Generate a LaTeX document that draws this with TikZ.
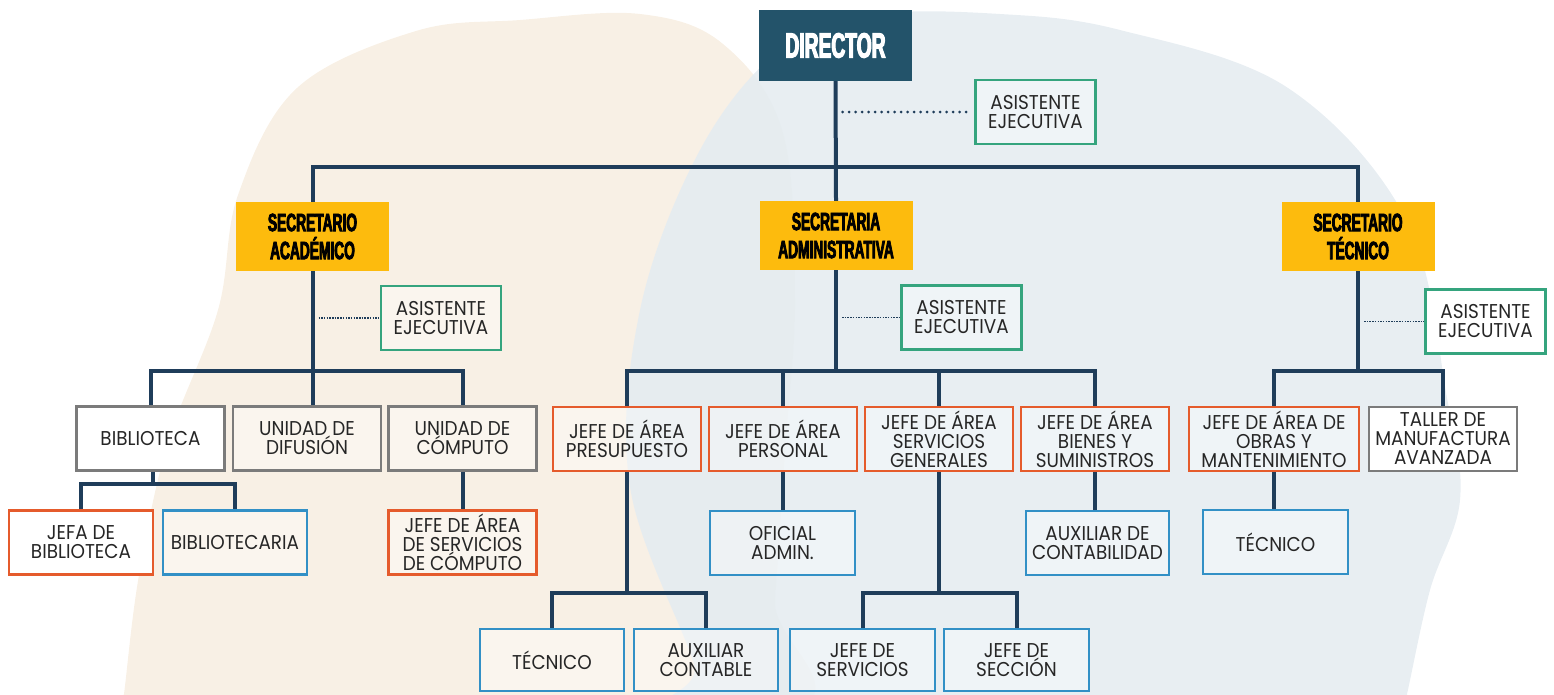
\documentclass[tikz,border=0pt]{standalone}
\usepackage{fontspec}
\setmainfont{Poppins}[FakeStretch=0.92]
\newfontfamily\headfont{Liberation Sans}[FakeStretch=0.55, FakeBold=3.2]
\definecolor{cnavy}{HTML}{1F3D5A}
\definecolor{cdir}{HTML}{23536A}
\definecolor{cyellow}{HTML}{FDBB0D}
\definecolor{cgreen}{HTML}{35A47E}
\definecolor{corange}{HTML}{E55B2C}
\definecolor{cblue}{HTML}{3290C6}
\definecolor{cgrey}{HTML}{7B7B7B}
\definecolor{ctxt}{HTML}{262626}
\definecolor{cbeige}{HTML}{F8F0E5}
\definecolor{cbluebg}{HTML}{E5ECF1}
\tikzset{
  box/.style={draw, line width=2.5pt, minimum width=148pt, minimum height=64pt,
    inner sep=0pt, align=center, text=ctxt, fill=white, fill opacity=0.35, text opacity=1,
    font=\fontsize{20}{19}\selectfont},
  greenbox/.style={box, draw=cgreen, minimum width=120pt},
  orangebox/.style={box, draw=corange},
  bluebox/.style={box, draw=cblue},
  greybox/.style={box, draw=cgrey},
  solidwhite/.style={fill opacity=1},
  headbox/.style={fill=cyellow, minimum width=153pt, minimum height=69pt, inner sep=0pt,
    align=center, text=black, font=\headfont\bfseries\fontsize{25}{28}\selectfont},
  dirbox/.style={fill=cdir, minimum width=153pt, minimum height=71pt, inner sep=0pt,
    text=white, font=\headfont\bfseries\fontsize{35}{35}\selectfont},
  conn/.style={draw=cnavy, line width=4pt, line join=miter},
  bigdots/.style={draw=cnavy, line width=3pt, line cap=round, dash pattern=on 0pt off 6.5pt, shorten <=7pt, shorten >=3pt},
  thindots/.style={draw=cnavy, line width=1.2pt, dash pattern=on 1.5pt off 1.2pt, shorten <=6pt}
}
\begin{document}
\begin{tikzpicture}[x=1pt,y=-1pt]
\useasboundingbox (0,0) rectangle (1554,694);
\begin{scope}
\clip (0,0) rectangle (1554,694);
\fill[cbeige] plot[smooth cycle, tension=0.6] coordinates {(416,31) (520,20) (640,14) (723,44) (783,133) (795,300) (785,450) (775,600) (765,720) (120,720) (124,694) (139,575) (168,442) (218,310) (238,195) (297,88)};
\fill[cbluebg, opacity=0.9] plot[smooth cycle, tension=0.6] coordinates {(872,15) (1000,14) (1120,30) (1288,88) (1407,221) (1447,398) (1460,500) (1430,590) (1407,694) (1400,720) (700,720) (694,664) (630,487) (640,310) (700,150) (780,50)};
\end{scope}

% nodes
\node[dirbox] (dir) at (835.5,45.5) {DIRECTOR};
\node[greenbox] (ae0) at (1035.5,112) {ASISTENTE\\EJECUTIVA};

\node[headbox] (sa) at (312.5,236.5) {SECRETARIO\\ACADÉMICO};
\node[headbox] (sad) at (836,235.5) {SECRETARIA\\ADMINISTRATIVA};
\node[headbox] (st) at (1358,236.5) {SECRETARIO\\TÉCNICO};

\node[greenbox] (ae1) at (441,318) {ASISTENTE\\EJECUTIVA};
\node[greenbox] (ae2) at (961.5,317.5) {ASISTENTE\\EJECUTIVA};
\node[greenbox, solidwhite] (ae3) at (1485.5,321.5) {ASISTENTE\\EJECUTIVA};

\node[greybox, solidwhite] (bib) at (150.5,438.5) {BIBLIOTECA};
\node[greybox] (dif) at (307,438.5) {UNIDAD DE\\DIFUSIÓN};
\node[greybox] (comp) at (462.5,438.5) {UNIDAD DE\\CÓMPUTO};
\node[orangebox] (pres) at (627,439) {JEFE DE ÁREA\\PRESUPUESTO};
\node[orangebox] (pers) at (783,439) {JEFE DE ÁREA\\PERSONAL};
\node[orangebox] (sg) at (939,439) {JEFE DE ÁREA\\SERVICIOS\\GENERALES};
\node[orangebox] (bs) at (1095,439) {JEFE DE ÁREA\\BIENES Y\\SUMINISTROS};
\node[orangebox, minimum width=170pt] (obras) at (1274,439) {JEFE DE ÁREA DE\\OBRAS Y\\MANTENIMIENTO};
\node[greybox, solidwhite] (taller) at (1443,439) {TALLER DE\\MANUFACTURA\\AVANZADA};

\node[orangebox, solidwhite, minimum width=144pt] (jefa) at (81,542.5) {JEFA DE\\BIBLIOTECA};
\node[bluebox, minimum width=144pt] (bibt) at (235,542.5) {BIBLIOTECARIA};
\node[orangebox] (jsc) at (462.5,542.5) {JEFE DE ÁREA\\DE SERVICIOS\\DE CÓMPUTO};
\node[bluebox, minimum width=145pt] (ofi) at (782.5,543) {OFICIAL\\ADMIN.};
\node[bluebox, minimum width=143pt] (auxcont) at (1097.5,543) {AUXILIAR DE\\CONTABILIDAD};
\node[bluebox, minimum width=145pt] (tec2) at (1275.5,542) {TÉCNICO};

\node[bluebox, minimum width=144pt, minimum height=62pt] (tec1) at (552,660) {TÉCNICO};
\node[bluebox, minimum width=144pt, minimum height=62pt] (auxc) at (706,660) {AUXILIAR\\CONTABLE};
\node[bluebox, minimum width=145pt, minimum height=62pt] (jserv) at (862.5,660) {JEFE DE\\SERVICIOS};
\node[bluebox, minimum width=145pt, minimum height=62pt] (jsec) at (1016.5,660) {JEFE DE\\SECCIÓN};

% connectors
\coordinate (bus0) at (836,167);
\draw[conn] (dir.south) -- (sad.north);
\draw[conn] (sa.north) |- (bus0) -| (st.north);
\draw[bigdots] (dir.south |- ae0.west) -- (ae0.west);

\coordinate (j1) at (312.5,371);
\draw[conn] (sa.south) -- (sa.south |- dif.north);
\draw[conn] (bib.north) |- (j1) -| (comp.north);
\draw[thindots] (sa.south |- ae1.west) -- (ae1.west);
\coordinate (j2) at (153,484);
\draw[conn] (bib.south -| j2) -- (j2);
\draw[conn] (jefa.north) |- (j2) -| (bibt.north);
\draw[conn] (comp.south) -- (jsc.north);

\coordinate (j3) at (836,371);
\draw[conn] (sad.south) -- (j3);
\draw[conn] (pres.north) |- (j3) -| (bs.north);
\draw[conn] (pers.north) -- (pers.north |- j3);
\draw[conn] (sg.north) -- (sg.north |- j3);
\draw[thindots] (sad.south |- ae2.west) -- (ae2.west);
\draw[conn] (pers.south) -- (pers.south |- ofi.north);
\draw[conn] (bs.south) -- (bs.south |- auxcont.north);
\coordinate (j4) at (627,593);
\draw[conn] (pres.south) -- (j4);
\draw[conn] (tec1.north) |- (j4) -| (auxc.north);
\coordinate (j5) at (939,593);
\draw[conn] (sg.south) -- (j5);
\draw[conn] (jserv.north) |- (j5) -| (jsec.north);

\coordinate (j6) at (1358,371);
\draw[conn] (st.south) -- (j6);
\draw[conn] (obras.north) |- (j6) -| (taller.north);
\draw[thindots] (st.south |- ae3.west) -- (ae3.west);
\draw[conn] (obras.south) -- (obras.south |- tec2.north);
\end{tikzpicture}
\end{document}
